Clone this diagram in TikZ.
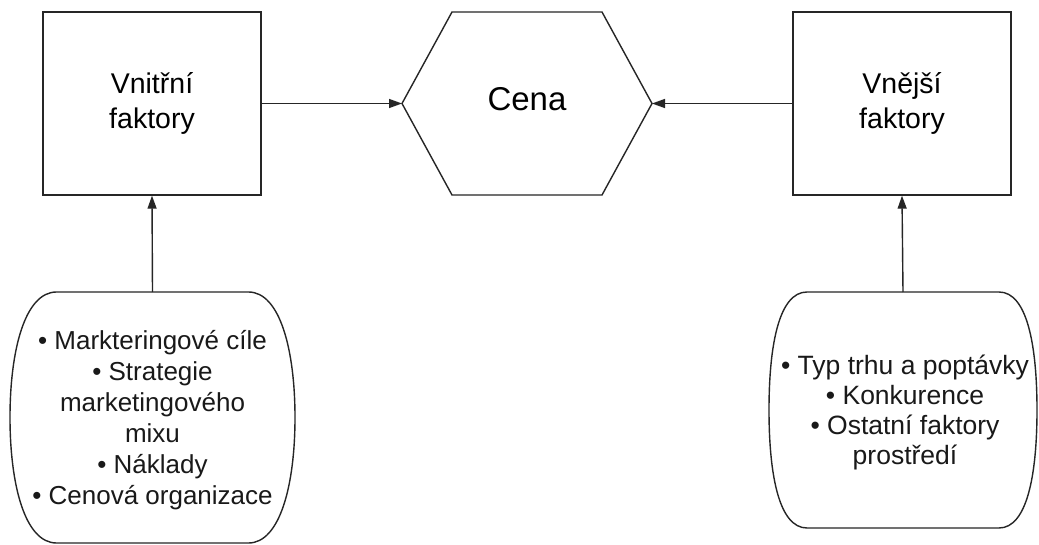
\documentclass[tikz,border=0pt]{standalone}
\usepackage{fontspec}
\setmainfont{Liberation Sans}
\usetikzlibrary{arrows.meta}
\begin{document}
\begin{tikzpicture}[x=1pt,y=-1pt,line width=1.4pt,
  box/.style={draw=black!85, minimum width=218pt, minimum height=183pt, inner sep=0pt, align=center, font=\fontsize{28.5}{35}\selectfont},
  shapeline/.style={draw=black!85},
  bul/.style={align=center, inner sep=0pt, font=\fontsize{26}{31}\selectfont, text=black!90},
  conn/.style={draw=black!85, -{Triangle[length=13pt,width=9pt]}}]
\useasboundingbox (0,0) rectangle (1039,545);
\fill[white] (0,0) rectangle (1039,545);

% boxes
\node[box] (vnitrni) at (152,103.5) {Vnitřní\\faktory};
\node[box] (vnejsi) at (902,103.5) {Vnější\\faktory};

% hexagon
\coordinate (hexL) at (402,103.5);
\coordinate (hexR) at (652,103.5);
\coordinate (hexTL) at (452,12);
\coordinate (hexTR) at (602,12);
\coordinate (hexBL) at (452,195);
\coordinate (hexBR) at (602,195);
\draw[shapeline] (hexTL) -- (hexTR) -- (hexR) -- (hexBR) -- (hexBL) -- (hexL) -- cycle;
\node[font=\fontsize{33}{39}\selectfont] (cena) at (527,99.5) {Cena};

% bottom left shape
\coordinate (ltop) at (152.5,292);
\draw[shapeline] (56.5,292) -- (248.5,292)
  .. controls (280,292) and (295,350) .. (295,417.5)
  .. controls (295,485) and (280,543) .. (248.5,543)
  -- (56.5,543)
  .. controls (25,543) and (10,485) .. (10,417.5)
  .. controls (10,350) and (25,292) .. (56.5,292) -- cycle;
\node[bul] (ltext) at (152.5,420) {• Markteringové cíle\\• Strategie\\marketingového\\mixu\\• Náklady\\• Cenová organizace};

% bottom right shape
\coordinate (rtop) at (903,292);
\draw[shapeline] (807,292) -- (999,292)
  .. controls (1027,292) and (1037,345) .. (1037,410)
  .. controls (1037,475) and (1027,528) .. (999,528)
  -- (807,528)
  .. controls (779,528) and (769,475) .. (769,410)
  .. controls (769,345) and (779,292) .. (807,292) -- cycle;
\node[bul, font=\fontsize{26.5}{30}\selectfont] (rtext) at (905,412) {• Typ trhu a poptávky\\• Konkurence\\• Ostatní faktory\\prostředí};

% connectors
\draw[conn] (vnitrni.east) -- (hexL);
\draw[conn] (vnejsi.west) -- (hexR);
\draw[conn] (ltop) -- (vnitrni.south);
\draw[conn] (rtop) -- (vnejsi.south);
\end{tikzpicture}
\end{document}
